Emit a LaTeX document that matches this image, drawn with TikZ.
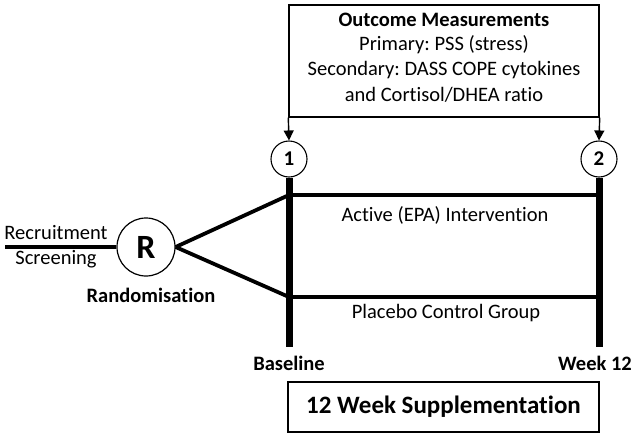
\documentclass[tikz,border=0pt]{standalone}
\usepackage{fontspec}
\setmainfont{Carlito}[Ligatures=NoCommon]
\usetikzlibrary{arrows.meta}
\frenchspacing
\begin{document}
\begin{tikzpicture}[x=1pt,y=-1pt,
  txt/.style={inner sep=0pt, font=\fontsize{20.5}{24}\selectfont},
  btxt/.style={inner sep=0pt, font=\fontsize{20.5}{24}\selectfont\bfseries},
  numcirc/.style={draw, circle, line width=1.1pt, minimum size=36pt, inner sep=0pt, font=\fontsize{21}{22}\selectfont\bfseries},
  bar/.style={line width=7pt},
  arm/.style={line width=3.8pt},
  boxed/.style={draw, line width=1.4pt, inner sep=0pt, align=center},
  arr/.style={line width=1.4pt, -{Triangle[length=10pt,width=10pt]}}
]
\useasboundingbox (0,0) rectangle (638,437);
% top box
\node[boxed, minimum width=310pt, minimum height=112pt] (top) at (444,61) {};
\node[btxt] (t1) at (444,20) {Outcome Measurements};
\node[txt] (t2) at (444,45) {Primary: PSS (stress)};
\node[txt] (t3) at (444,70) {Secondary: DASS COPE cytokines};
\node[txt] (t4) at (444,95) {and Cortisol/DHEA ratio};
% circles
\node[numcirc] (c1) at (289,159) {1};
\node[numcirc] (c2) at (599,159) {2};
\draw[arr] (top.south west) -- (c1.north);
\draw[arr] (top.south east) -- (c2.north);
% bars
\coordinate (b1) at (289,347);
\coordinate (b2) at (599,347);
\draw[bar] (c1.south) -- (b1);
\draw[bar] (c2.south) -- (b2);
% arms
\coordinate (a1) at (289,195);
\coordinate (a2) at (599,195);
\coordinate (p1) at (289,297);
\coordinate (p2) at (599,297);
\draw[arm] (a1) -- (a2);
\draw[arm] (p1) -- (p2);
\node[txt] (act) at (445,215) {Active (EPA) Intervention};
\node[txt] (plc) at (446,313) {Placebo Control Group};
% R
\node[draw, circle, line width=1.2pt, minimum size=58pt, inner sep=0pt, font=\fontsize{34}{36}\selectfont\bfseries] (R) at (146,247) {R};
\coordinate (rs) at (5,247);
\draw[arm] (rs) -- (R.west);
\draw[arm] (R.east) -- (a1);
\draw[arm] (R.east) -- (p1);
\node[txt] (rec) at (56,233) {Recruitment};
\node[txt] (scr) at (56,259) {Screening};
\node[btxt] (rand) at (151,295) {Randomisation};
% bottom labels
\node[btxt] (base) at (289,363) {Baseline};
\node[btxt] (wk) at (595,363) {Week 12};
\node[boxed, minimum width=311pt, minimum height=50pt, font=\fontsize{25}{28}\selectfont\bfseries] (sup) at (443.5,407) {12 Week Supplementation};
\end{tikzpicture}
\end{document}
